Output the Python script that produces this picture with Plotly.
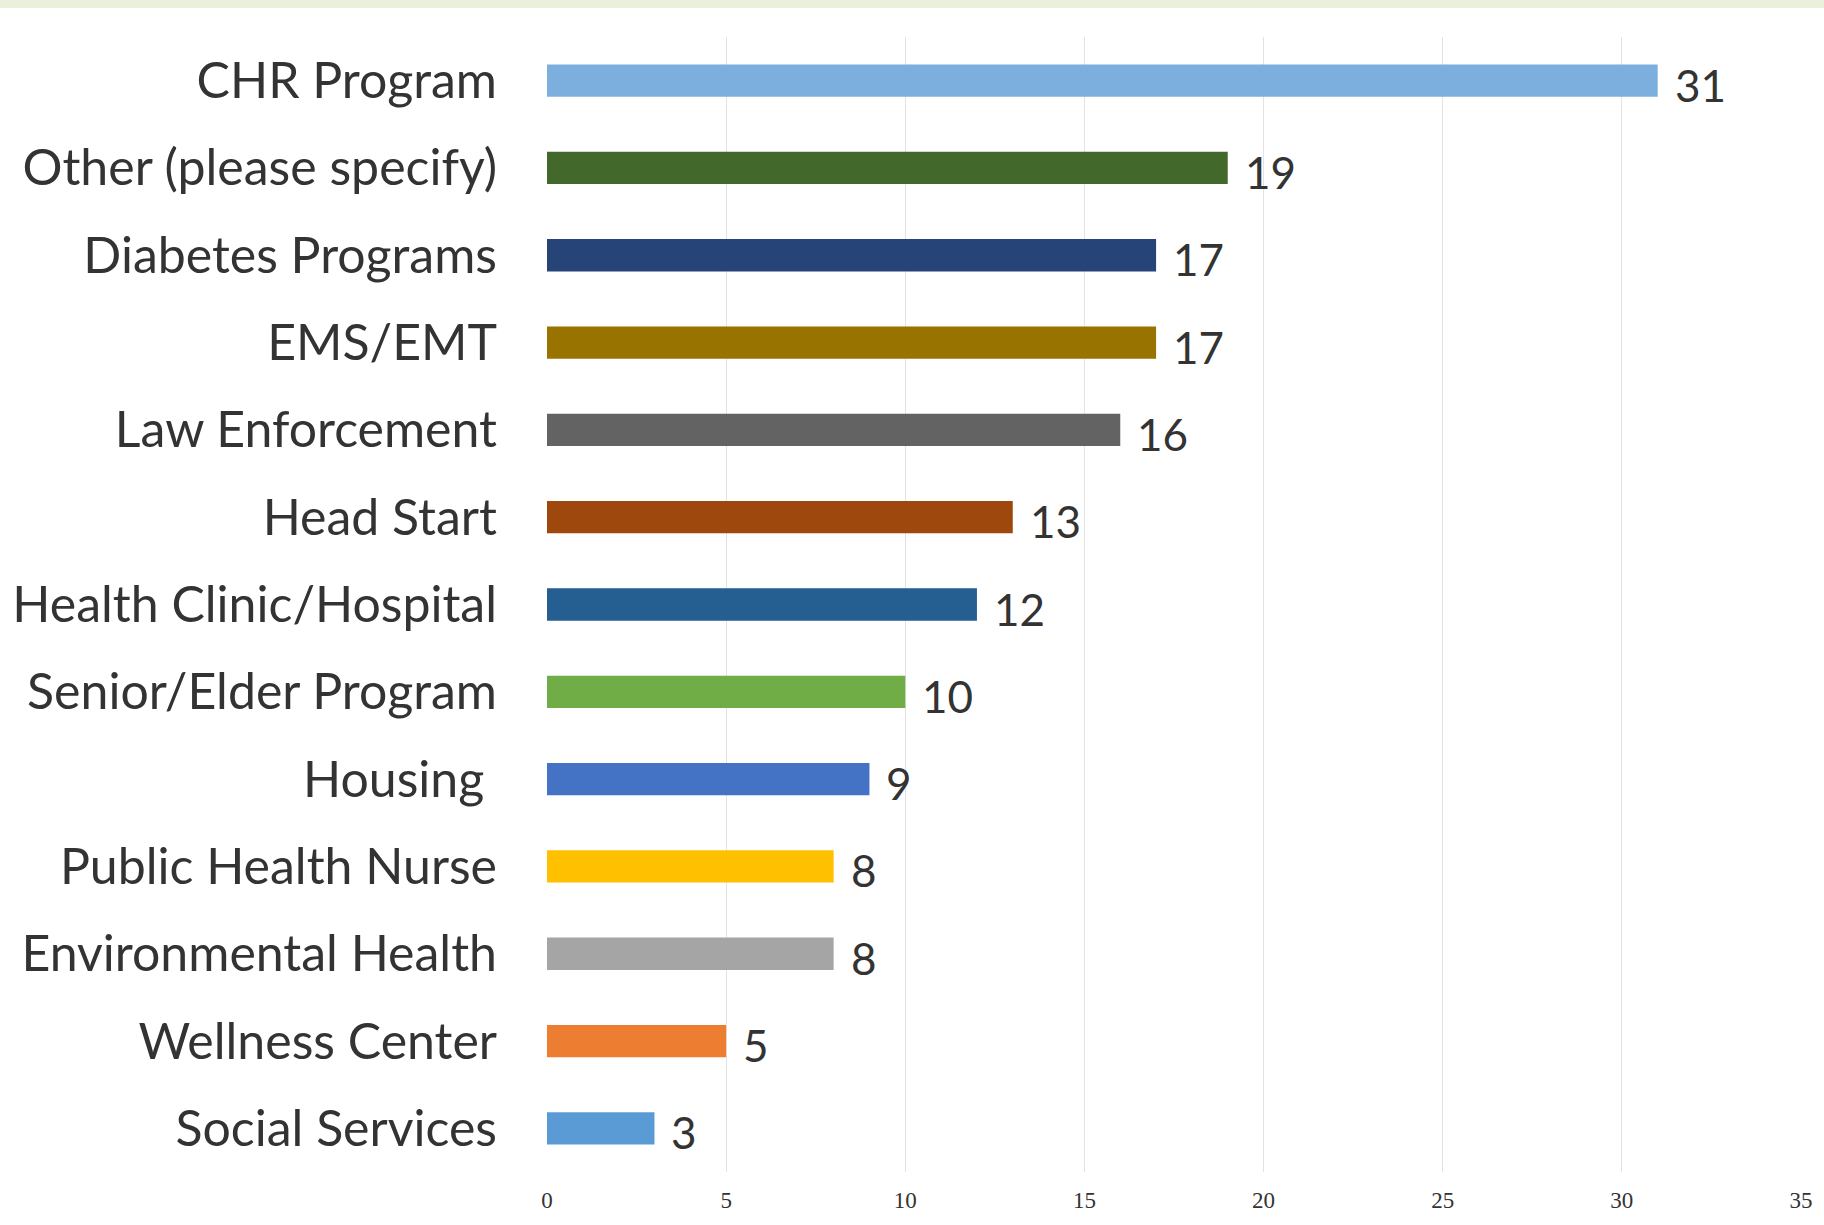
import plotly.graph_objects as go

categories = ["CHR Program", "Other (please specify)", "Diabetes Programs", "EMS/EMT",
              "Law Enforcement", "Head Start", "Health Clinic/Hospital", "Senior/Elder Program",
              "Housing\u00a0", "Public Health Nurse", "Environmental Health", "Wellness Center",
              "Social Services"]
values = [31, 19, 17, 17, 16, 13, 12, 10, 9, 8, 8, 5, 3]
colors = ["#7CAFDD", "#43682B", "#264478", "#997300", "#636363", "#9E480E", "#255E91",
          "#70AD47", "#4472C4", "#FFC000", "#A5A5A5", "#ED7D31", "#5B9BD5"]
x_ticks = [0, 5, 10, 15, 20, 25, 30, 35]

fig = go.Figure()
fig.add_trace(go.Bar(
    x=values, y=categories, orientation="h",
    marker=dict(color=colors, line=dict(width=0)),
    width=0.37, hoverinfo="x+y",
))

for c, v in zip(categories, values):
    fig.add_annotation(x=v, y=c, text=str(v), showarrow=False, xanchor="left",
                       yanchor="middle", xshift=15, yshift=-4,
                       font=dict(family="Lato", size=44, color="#333333"))

fig.update_layout(
    width=1824, height=1225,
    margin=dict(l=547, r=23, t=37, b=53),
    paper_bgcolor="white", plot_bgcolor="white",
    showlegend=False,
    xaxis=dict(range=[0, 35], tickvals=x_ticks, ticktext=[str(t) for t in x_ticks],
               showgrid=True, gridcolor="#E3E3E3", gridwidth=1, zeroline=False,
               showline=False, ticks="", ticklabelstandoff=12,
               tickfont=dict(family="Liberation Serif", size=23, color="#333333")),
    yaxis=dict(categoryorder="array", categoryarray=categories, autorange="reversed",
               showgrid=False, zeroline=False, showline=False, ticks="",
               ticklabelstandoff=49,
               tickfont=dict(family="Lato", size=50, color="#333333")),
    shapes=[dict(type="rect", xref="paper", yref="paper", x0=-0.5, x1=1.02,
                 y0=1 + 29 / 1135, y1=1 + 37 / 1135, fillcolor="#EAF0DC",
                 line=dict(width=0), layer="below")],
)

fig.write_html("out.html", config={"displayModeBar": False},
               post_script="document.body.style.margin='0';")
